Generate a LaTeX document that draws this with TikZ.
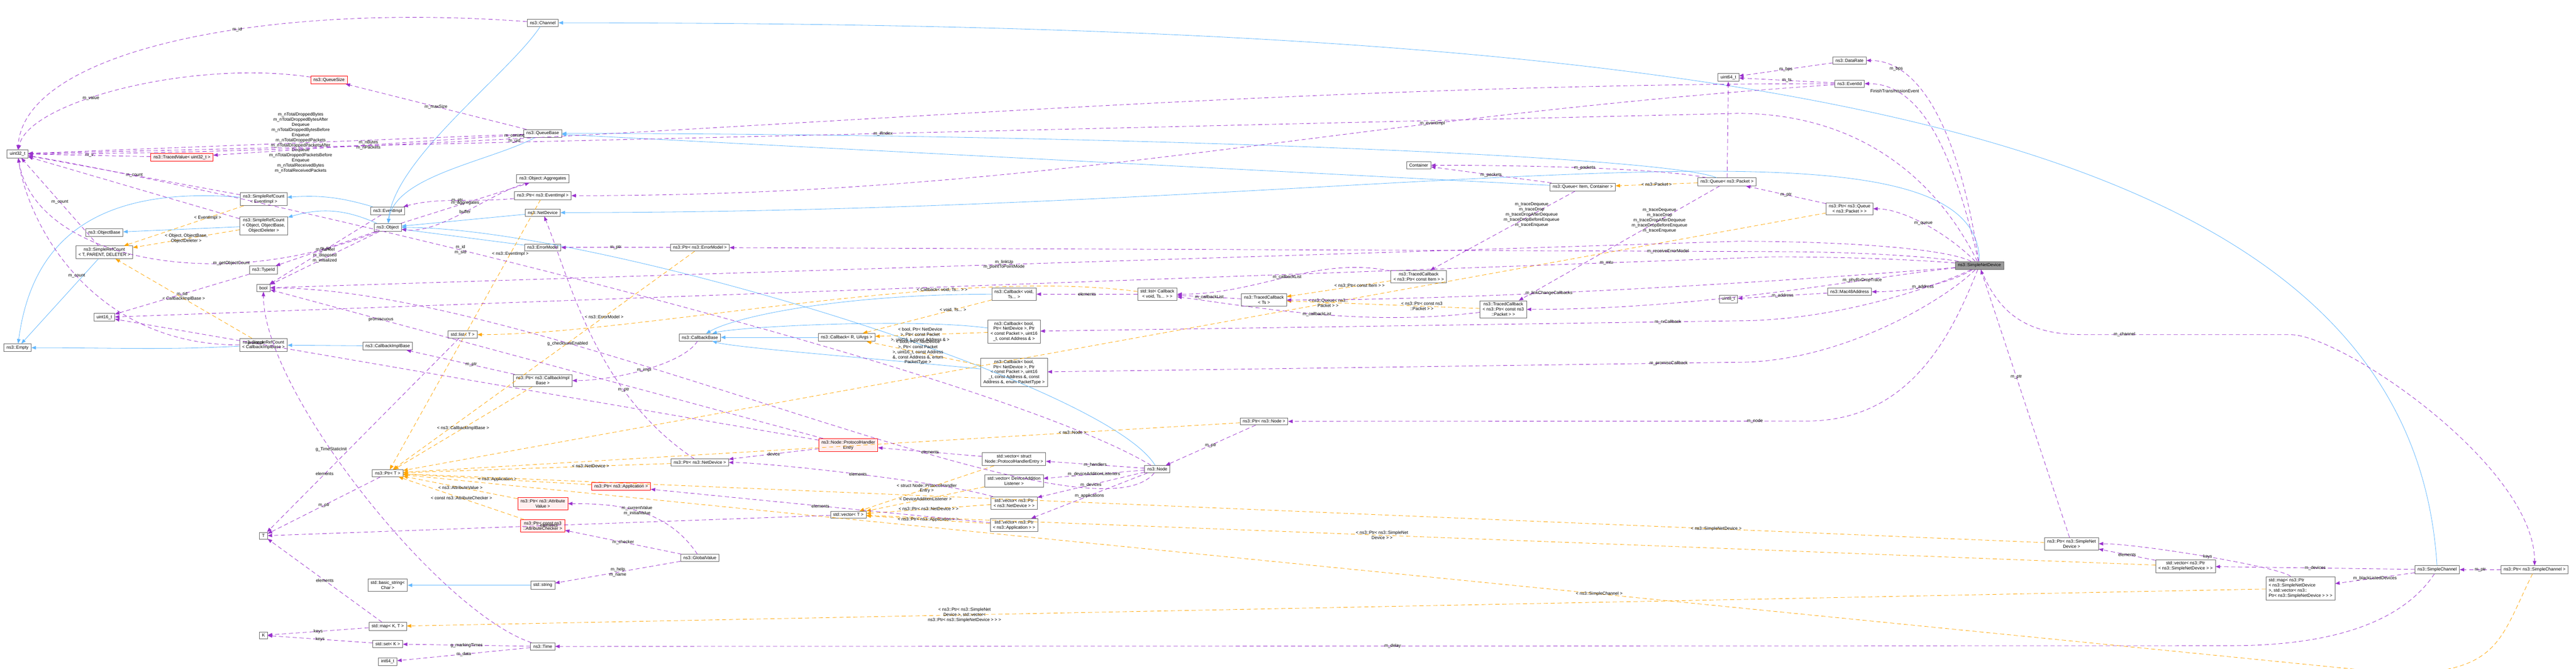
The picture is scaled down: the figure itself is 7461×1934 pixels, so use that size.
\documentclass[tikz,border=0pt]{standalone}
\usepackage{fontspec}
\setmainfont{Liberation Sans}
\usetikzlibrary{arrows.meta}

\definecolor{usecol}{HTML}{9A32CD}
\definecolor{inhcol}{HTML}{63B8FF}
\definecolor{tplcol}{HTML}{FFA500}

\tikzset{
  cls/.style={draw=black!60, fill=white, line width=0.35pt, inner xsep=2.2pt, inner ysep=1.6pt,
    font=\fontsize{3.6}{4.2}\selectfont, align=center},
  undoc/.style={cls, draw=red, fill=red!6},
  self/.style={cls, fill=black!40},
  use/.style={draw=usecol, dashed, dash pattern=on 1.2mm off 0.8mm, line width=0.35pt, -{Triangle[length=1.3mm,width=1mm]}},
  inh/.style={draw=inhcol, line width=0.35pt, -{Triangle[length=1.3mm,width=1mm]}},
  tpl/.style={draw=tplcol, dashed, dash pattern=on 1.2mm off 0.8mm, line width=0.35pt, -{Triangle[length=1.3mm,width=1mm]}},
  lbl/.style={font=\fontsize{3.6}{4.2}\selectfont, align=center, inner sep=0.5pt, midway}
}

\begin{document}
\begin{tikzpicture}[x=0.1mm, y=-0.1mm]

    \useasboundingbox (0,0) rectangle (7461,1934);

    % Left column
    \node[cls] (u32) at (51,445) {uint32\_t};
    \node[cls] (empty) at (51,1006) {ns3::Empty};

    % Second column
    \node[cls] (objbase) at (302,673) {ns3::ObjectBase};
    \node[cls] (srctpl) at (302,730) {ns3::SimpleRefCount\\< T, PARENT, DELETER >};
    \node[cls] (u16) at (302,918) {uint16\_t};

    % Third column
    \node[undoc] (tracedv) at (527,455) {ns3::TracedValue< uint32\_t >};
    \node[cls] (srcev) at (764,576) {ns3::SimpleRefCount\\< EventImpl >};
    \node[cls] (srcobj) at (764,653) {ns3::SimpleRefCount\\< Object, ObjectBase,\\ObjectDeleter >};
    \node[cls] (typeid) at (763,781) {ns3::TypeId};
    \node[cls] (bool) at (763,833) {bool};
    \node[cls] (srccb) at (763,998) {ns3::SimpleRefCount\\< CallbackImplBase >};
    \node[cls] (tT) at (763,1550) {T};
    \node[cls] (tK) at (763,1838) {K};
    \node[undoc] (qsize) at (953,231) {ns3::QueueSize};

    % Fourth column
    \node[cls] (evimpl) at (1123,610) {ns3::EventImpl};
    \node[cls] (object) at (1123,658) {ns3::Object};
    \node[cls] (cbimpl) at (1123,1001) {ns3::CallbackImplBase};
    \node[cls] (ptrT) at (1123,1369) {ns3::Ptr< T >};
    \node[cls] (bstr) at (1123,1693) {std::basic\_string<\\Char >};
    \node[cls] (mapKT) at (1123,1812) {std::map< K, T >};
    \node[cls] (setK) at (1123,1863) {std::set< K >};
    \node[cls] (i64) at (1123,1914) {int64\_t};

    % Fifth column
    \node[cls] (channel) at (1572,66) {ns3::Channel};
    \node[cls] (qbase) at (1572,386) {ns3::QueueBase};
    \node[cls] (aggr) at (1572,517) {ns3::Object::Aggregates};
    \node[cls] (ptrev) at (1572,566) {ns3::Ptr< ns3::EventImpl >};
    \node[cls] (netdev) at (1572,615) {ns3::NetDevice};
    \node[cls] (errmod) at (1572,716) {ns3::ErrorModel};
    \node[cls] (listT) at (1340,968) {std::list< T >};
    \node[cls] (ptrcbi) at (1572,1101) {ns3::Ptr< ns3::CallbackImpl\\Base >};
    \node[undoc] (ptrattv) at (1572,1457) {ns3::Ptr< ns3::Attribute\\Value >};
    \node[undoc] (ptrattc) at (1572,1521) {ns3::Ptr< const ns3\\::AttributeChecker >};
    \node[cls] (string) at (1572,1693) {std::string};
    \node[cls] (time) at (1572,1870) {ns3::Time};

    % Sixth column
    \node[cls] (ptrerr) at (2027,716) {ns3::Ptr< ns3::ErrorModel >};
    \node[cls] (cbbase) at (2027,976) {ns3::CallbackBase};
    \node[cls] (ptrnd) at (2027,1338) {ns3::Ptr< ns3::NetDevice >};
    \node[undoc] (ptrapp) at (1799,1407) {ns3::Ptr< ns3::Application >};
    \node[cls] (gval) at (2027,1614) {ns3::GlobalValue};

    % Seventh column
    \node[cls] (cbRU) at (2452,976) {ns3::Callback< R, UArgs >};
    \node[undoc] (phe) at (2457,1288) {ns3::Node::ProtocolHandler\\Entry};
    \node[cls] (vecT) at (2457,1489) {std::vector< T >};

    % Eighth column
    \node[cls] (cbvoid) at (2937,851) {ns3::Callback< void,\\Ts... >};
    \node[cls] (cbrx) at (2937,959) {ns3::Callback< bool,\\Ptr< NetDevice >, Ptr\\< const Packet >, uint16\\\_t, const Address \& >};
    \node[cls] (cbpr) at (2937,1077) {ns3::Callback< bool,\\Ptr< NetDevice >, Ptr\\< const Packet >, uint16\\\_t, const Address \&, const\\Address \&, enum PacketType >};
    \node[cls] (vecphe) at (2937,1328) {std::vector< struct\\Node::ProtocolHandlerEntry >};
    \node[cls] (vecdal) at (2937,1391) {std::vector< DeviceAddition\\Listener >};
    \node[cls] (vecnd) at (2937,1455) {std::vector< ns3::Ptr\\< ns3::NetDevice > >};
    \node[cls] (vecapp) at (2937,1519) {std::vector< ns3::Ptr\\< ns3::Application > >};

    % Ninth column
    \node[cls] (listcb) at (3352,851) {std::list< Callback\\< void, Ts... > >};
    \node[cls] (node) at (3352,1357) {ns3::Node};
    \node[cls] (tcbTs) at (3661,868) {ns3::TracedCallback\\< Ts >};
    \node[cls] (ptrnode) at (3661,1219) {ns3::Ptr< ns3::Node >};

    % Queues
    \node[cls] (container) at (4109,478) {Container};
    \node[cls] (queueIC) at (4584,541) {ns3::Queue< Item, Container >};
    \node[cls] (queuePk) at (5002,526) {ns3::Queue< ns3::Packet >};
    \node[cls] (tcbitem) at (4109,800) {ns3::TracedCallback\\< ns3::Ptr< const Item > >};
    \node[cls] (tcbpkt) at (4354,895) {ns3::TracedCallback\\< ns3::Ptr< const ns3\\::Packet > >};
    \node[cls] (u64) at (5006,224) {uint64\_t};
    \node[cls] (u8) at (5006,865) {uint8\_t};

    % Right part
    \node[cls] (datarate) at (5357,175) {ns3::DataRate};
    \node[cls] (eventid) at (5357,242) {ns3::EventId};
    \node[cls] (ptrqueue) at (5357,604) {ns3::Ptr< ns3::Queue\\< ns3::Packet > >};
    \node[cls] (mac) at (5357,844) {ns3::Mac48Address};
    \node[self] (snd) at (5733,768) {ns3::SimpleNetDevice};
    \node[cls] (ptrsnd) at (6000,1573) {ns3::Ptr< ns3::SimpleNet\\Device >};
    \node[cls] (vecsnd) at (6330,1638) {std::vector< ns3::Ptr\\< ns3::SimpleNetDevice > >};
    \node[cls, align=left] (mapsnd) at (6663,1702) {std::map< ns3::Ptr\\< ns3::SimpleNetDevice\\ >, std::vector< ns3::\\Ptr< ns3::SimpleNetDevice > > >};
    \node[cls] (schan) at (7059,1648) {ns3::SimpleChannel};
    \node[cls] (ptrschan) at (7341,1648) {ns3::Ptr< ns3::SimpleChannel >};

    % Inheritance
    \draw[inh] (evimpl) to[bend right=10] (srcev);
    \draw[inh] (object) to[bend right=20] (srcobj);
    \draw[inh] (srcobj) -- (objbase);
    \draw[inh] (srcev) .. controls +(-500,-40) and +(40,-300) .. (empty);
    \draw[inh] (srctpl) -- (empty);
    \draw[inh] (srccb) .. controls +(-300,15) and +(300,0) .. (empty);
    \draw[inh] (cbimpl) -- (srccb);
    \draw[inh] (channel) .. controls +(-100,150) and +(20,-200) .. (object);
    \draw[inh] (qbase) .. controls +(-150,80) and +(20,-150) .. (object);
    \draw[inh] (netdev) -- (object);
    \draw[inh] (errmod) -- (object);
    \draw[inh] (node) .. controls +(-150,-250) and +(600,0) .. (object);
    \draw[inh] (queueIC) -- (qbase);
    \draw[inh] (queuePk) .. controls +(-200,-80) and +(1500,0) .. (qbase);
    \draw[inh] (snd) .. controls +(0,-500) and +(2500,0) .. (netdev);
    \draw[inh] (schan) .. controls +(-80,-1300) and +(3500,0) .. (channel);
    \draw[inh] (cbRU) -- (cbbase);
    \draw[inh] (cbvoid) .. controls +(-500,0) and +(100,-60) .. (cbbase);
    \draw[inh] (cbrx) .. controls +(-300,-40) and +(100,-30) .. (cbbase);
    \draw[inh] (cbpr) .. controls +(-400,-40) and +(100,30) .. (cbbase);
    \draw[inh] (string) -- (bstr);

    % Template instances
    \draw[tpl] (srcev) -- node[lbl, pos=0.3] {< EventImpl >} (srctpl);
    \draw[tpl] (srcobj) -- node[lbl] {< Object, ObjectBase,\\ObjectDeleter >} (srctpl);
    \draw[tpl] (srccb) -- node[lbl] {< CallbackImplBase >} (srctpl);
    \draw[tpl] (ptrev) -- node[lbl, pos=0.2] {< ns3::EventImpl >} (ptrT);
    \draw[tpl] (ptrerr) -- node[lbl, pos=0.3] {< ns3::ErrorModel >} (ptrT);
    \draw[tpl] (ptrcbi) -- node[lbl] {< ns3::CallbackImplBase >} (ptrT);
    \draw[tpl] (ptrnd) -- node[lbl, pos=0.3] {< ns3::NetDevice >} (ptrT);
    \draw[tpl] (ptrapp) -- node[lbl] {< ns3::Application >} (ptrT);
    \draw[tpl] (ptrattv) -- node[lbl] {< ns3::AttributeValue >} (ptrT);
    \draw[tpl] (ptrattc) -- node[lbl] {< const ns3::AttributeChecker >} (ptrT);
    \draw[tpl] (ptrnode) -- node[lbl, pos=0.2] {< ns3::Node >} (ptrT);
    \draw[tpl] (ptrqueue) -- node[lbl, pos=0.35] {< ns3::Queue< ns3::\\Packet > >} (ptrT);
    \draw[tpl] (ptrsnd) -- node[lbl, pos=0.2] {< ns3::SimpleNetDevice >} (ptrT);
    \draw[tpl] (ptrschan) .. controls +(-100,200) and +(300,0) .. ++(-400,300) -- node[lbl, pos=0.4] {< ns3::SimpleChannel >} (ptrT);
    \draw[tpl] (cbvoid) -- node[lbl, pos=0.3] {< void, Ts... >} (cbRU);
    \draw[tpl] (cbrx) -- node[lbl, pos=0.6] {< bool, Ptr< NetDevice\\>, Ptr< const Packet\\>, uint16\_t, const Address \& >} (cbRU);
    \draw[tpl] (cbpr) -- node[lbl, pos=0.55] {< bool, Ptr< NetDevice\\>, Ptr< const Packet\\>, uint16\_t, const Address\\\&, const Address \&, enum\\PacketType >} (cbRU);
    \draw[tpl] (listcb) .. controls +(-600,-80) and +(500,0) .. node[lbl, pos=0.3] {< Callback< void, Ts... > >} (listT);
    \draw[tpl] (vecphe) -- node[lbl] {< struct Node::ProtocolHandler\\Entry >} (vecT);
    \draw[tpl] (vecdal) -- node[lbl] {< DeviceAdditionListener >} (vecT);
    \draw[tpl] (vecnd) -- node[lbl] {< ns3::Ptr< ns3::NetDevice > >} (vecT);
    \draw[tpl] (vecapp) -- node[lbl] {< ns3::Ptr< ns3::Application > >} (vecT);
    \draw[tpl] (vecsnd) -- node[lbl, pos=0.6] {< ns3::Ptr< ns3::SimpleNet\\Device > >} (vecT);
    \draw[tpl] (mapsnd) -- node[lbl, pos=0.7] {< ns3::Ptr< ns3::SimpleNet\\Device >, std::vector<\\ns3::Ptr< ns3::SimpleNetDevice > > >} (mapKT);
    \draw[tpl] (queuePk) -- node[lbl] {< ns3::Packet >} (queueIC);
    \draw[tpl] (tcbitem) -- node[lbl, pos=0.3] {< ns3::Ptr< const Item > >} (tcbTs);
    \draw[tpl] (tcbpkt) -- node[lbl, pos=0.3] {< ns3::Ptr< const ns3\\::Packet > >} (tcbTs);

    % Members of the base classes
    \draw[use] (object) .. controls +(-500,200) and +(50,300) .. node[lbl, pos=0.3] {m\_getObjectCount} (u32);
    \draw[use] (object) -- node[lbl] {m\_tid} (typeid);
    \draw[use] (object) -- node[lbl] {m\_disposed\\m\_initialized} (bool);
    \draw[use] (object) -- node[lbl] {m\_aggregates} (aggr);
    \draw[use] (aggr) .. controls +(-150,40) and +(150,20) .. node[lbl] {buffer} (object);
    \draw[use] (evimpl) -- node[lbl] {m\_cancel} (bool);
    \draw[use] (srcev) -- node[lbl] {m\_count} (u32);
    \draw[use] (srcobj) -- (u32);
    \draw[use] (srctpl) -- node[lbl] {m\_count} (u32);
    \draw[use] (srccb) .. controls +(-500,0) and +(30,200) .. node[lbl] {m\_count} (u32);
    \draw[use] (typeid) -- node[lbl] {m\_tid} (u16);
    \draw[use] (tracedv) -- node[lbl] {m\_v} (u32);
    \draw[use] (qsize) .. controls +(-400,-60) and +(30,-150) .. node[lbl, pos=0.6] {m\_value} (u32);
    \draw[use] (channel) .. controls +(-800,-60) and +(20,-300) .. node[lbl, pos=0.4] {m\_id} (u32);
    \draw[use] (qbase) -- node[lbl, pos=0.45] {m\_nTotalDroppedBytes\\m\_nTotalDroppedBytesAfter\\Dequeue\\m\_nTotalDroppedBytesBefore\\Enqueue\\m\_nTotalDroppedPackets\\m\_nTotalDroppedPacketsAfter\\Dequeue\\m\_nTotalDroppedPacketsBefore\\Enqueue\\m\_nTotalReceivedBytes\\m\_nTotalReceivedPackets} (u32);
    \draw[use] (qbase) -- node[lbl] {m\_maxSize} (qsize);
    \draw[use] (qbase) -- node[lbl] {m\_nBytes\\m\_nPackets} (tracedv);

    % Pointers and containers
    \draw[use] (ptrev) .. controls +(-200,20) and +(150,-40) .. node[lbl] {m\_ptr} (evimpl);
    \draw[use] (ptrerr) -- node[lbl] {m\_ptr} (errmod);
    \draw[use] (ptrcbi) -- node[lbl, pos=0.4] {m\_ptr} (cbimpl);
    \draw[use] (cbbase) .. controls +(-50,80) and +(200,0) .. node[lbl] {m\_impl} (ptrcbi);
    \draw[use] (ptrT) -- node[lbl] {m\_ptr} (tT);
    \draw[use] (ptrnd) .. controls +(-300,-200) and +(80,200) .. node[lbl, pos=0.3] {m\_ptr} (netdev);
    \draw[use] (vecT) -- node[lbl] {elements} (tT);
    \draw[use] (listT) -- node[lbl, pos=0.7] {elements} (tT);
    \draw[use] (mapKT) -- node[lbl] {elements} (tT);
    \draw[use] (mapKT) -- node[lbl] {keys} (tK);
    \draw[use] (setK) -- node[lbl] {keys} (tK);
    \draw[use] (phe) -- node[lbl] {device} (ptrnd);
    \draw[use] (phe) -- node[lbl, pos=0.8] {protocol} (u16);
    \draw[use] (phe) -- node[lbl, pos=0.8] {promiscuous} (bool);
    \draw[use] (vecphe) -- node[lbl] {elements} (phe);
    \draw[use] (vecnd) .. controls +(-200,-60) and +(200,0) .. node[lbl] {elements} (ptrnd);
    \draw[use] (vecapp) -- node[lbl] {elements} (ptrapp);
    \draw[use] (gval) .. controls +(-100,-150) and +(200,0) .. node[lbl] {m\_currentValue\\m\_initialValue} (ptrattv);
    \draw[use] (gval) -- node[lbl] {m\_checker} (ptrattc);
    \draw[use] (gval) -- node[lbl] {m\_help\\m\_name} (string);
    \draw[use] (time) -- node[lbl] {m\_data} (i64);
    \draw[use] (time) -- node[lbl] {g\_markingTimes} (setK);
    \draw[use] (time) .. controls +(-300,-100) and +(0,300) .. node[lbl, pos=0.6] {g\_TimeStaticInit} (bool);

    % Node
    \draw[use] (node) -- node[lbl] {m\_handlers} (vecphe);
    \draw[use] (node) -- node[lbl] {m\_deviceAdditionListeners} (vecdal);
    \draw[use] (node) -- node[lbl] {m\_devices} (vecnd);
    \draw[use] (node) -- node[lbl] {m\_applications} (vecapp);
    \draw[use] (node) .. controls +(-500,-300) and +(600,100) .. node[lbl, pos=0.6] {m\_id\\m\_sid} (u32);
    \draw[use] (node) .. controls +(-200,250) and +(800,0) .. node[lbl, pos=0.7] {g\_checksumEnabled} (bool);
    \draw[use] (ptrnode) -- node[lbl] {m\_ptr} (node);

    % Callbacks and queues
    \draw[use] (listcb) -- node[lbl] {elements} (cbvoid);
    \draw[use] (tcbTs) -- node[lbl] {m\_callbackList} (listcb);
    \draw[use] (tcbitem) .. controls +(-300,-60) and +(300,0) .. node[lbl] {m\_callbackList} (listcb);
    \draw[use] (tcbpkt) .. controls +(-400,50) and +(300,40) .. node[lbl] {m\_callbackList} (listcb);
    \draw[use] (queueIC) -- node[lbl] {m\_packets} (container);
    \draw[use] (queuePk) .. controls +(-200,-40) and +(300,0) .. node[lbl] {m\_packets} (container);
    \draw[use] (queueIC) -- node[lbl, pos=0.3] {m\_traceDequeue\\m\_traceDrop\\m\_traceDropAfterDequeue\\m\_traceDropBeforeEnqueue\\m\_traceEnqueue} (tcbitem);
    \draw[use] (queuePk) -- node[lbl, pos=0.3] {m\_traceDequeue\\m\_traceDrop\\m\_traceDropAfterDequeue\\m\_traceDropBeforeEnqueue\\m\_traceEnqueue} (tcbpkt);
    \draw[use] (queuePk) -- (u64);
    \draw[use] (datarate) -- node[lbl] {m\_bps} (u64);
    \draw[use] (eventid) -- node[lbl] {m\_ts} (u64);
    \draw[use] (eventid) .. controls +(-1500,100) and +(1500,0) .. node[lbl, pos=0.3] {m\_eventImpl} (ptrev);
    \draw[use] (eventid) .. controls +(-2000,0) and +(1500,0) .. node[lbl, pos=0.7] {m\_context\\m\_uid} (u32);
    \draw[use] (mac) -- node[lbl] {m\_address} (u8);
    \draw[use] (ptrqueue) -- node[lbl] {m\_ptr} (queuePk);

    % SimpleNetDevice members
    \draw[use] (snd) .. controls +(-60,-400) and +(200,0) .. node[lbl, pos=0.8] {m\_bps} (datarate);
    \draw[use] (snd) .. controls +(-80,-350) and +(200,0) .. node[lbl, pos=0.8] {FinishTransmissionEvent} (eventid);
    \draw[use] (snd) .. controls +(-100,-100) and +(150,0) .. node[lbl] {m\_queue} (ptrqueue);
    \draw[use] (snd) .. controls +(-100,60) and +(150,0) .. node[lbl] {m\_address} (mac);
    \draw[use] (snd) .. controls +(-150,-300) and +(300,0) .. ++(-700,-440) -- node[lbl] {m\_ifIndex} (u32);
    \draw[use] (snd) .. controls +(-100,-50) and +(300,0) .. ++(-700,-70) -- node[lbl] {m\_linkUp\\m\_pointToPointMode} (bool);
    \draw[use] (snd) .. controls +(-100,-20) and +(300,0) .. ++(-600,-40) -- node[lbl, pos=0.1] {m\_receiveErrorModel} (ptrerr);
    \draw[use] (snd) .. controls +(-100,-10) and +(300,0) .. ++(-600,-25) -- node[lbl, pos=0.1] {m\_mtu} (u16);
    \draw[use] (snd) .. controls +(-100,50) and +(300,0) .. ++(-700,160) -- node[lbl, pos=0.1] {m\_rxCallback} (cbrx);
    \draw[use] (snd) .. controls +(-100,100) and +(300,0) .. ++(-700,280) -- node[lbl, pos=0.1] {m\_promiscCallback} (cbpr);
    \draw[use] (snd) .. controls +(-80,200) and +(300,0) .. ++(-500,450) -- node[lbl, pos=0.1] {m\_node} (ptrnode);
    \draw[use] (snd) .. controls +(-300,30) and +(600,0) .. node[lbl, pos=0.3] {m\_phyRxDropTrace} (tcbpkt);
    \draw[use] (snd) .. controls +(-600,50) and +(600,0) .. node[lbl, pos=0.6] {m\_linkChangeCallbacks} (tcbTs);
    \draw[use] (snd) .. controls +(60,150) and +(-150,0) .. ++(300,200) -- node[lbl, pos=0.2] {m\_channel} ++(600,0) .. controls +(150,0) and +(0,-300) .. (ptrschan);
    \draw[use] (ptrsnd) -- node[lbl, pos=0.6] {m\_ptr} (snd);

    % SimpleChannel
    \draw[use] (ptrschan) -- node[lbl] {m\_ptr} (schan);
    \draw[use] (schan) -- node[lbl] {m\_devices} (vecsnd);
    \draw[use] (schan) -- node[lbl] {m\_blackListedDevices} (mapsnd);
    \draw[use] (schan) .. controls +(-100,150) and +(300,0) .. ++(-600,220) -- node[lbl, pos=0.5] {m\_delay} (time);
    \draw[use] (vecsnd) -- node[lbl] {elements} (ptrsnd);
    \draw[use] (mapsnd) .. controls +(-50,-60) and +(200,0) .. node[lbl] {keys} (ptrsnd);

\end{tikzpicture}
\end{document}
